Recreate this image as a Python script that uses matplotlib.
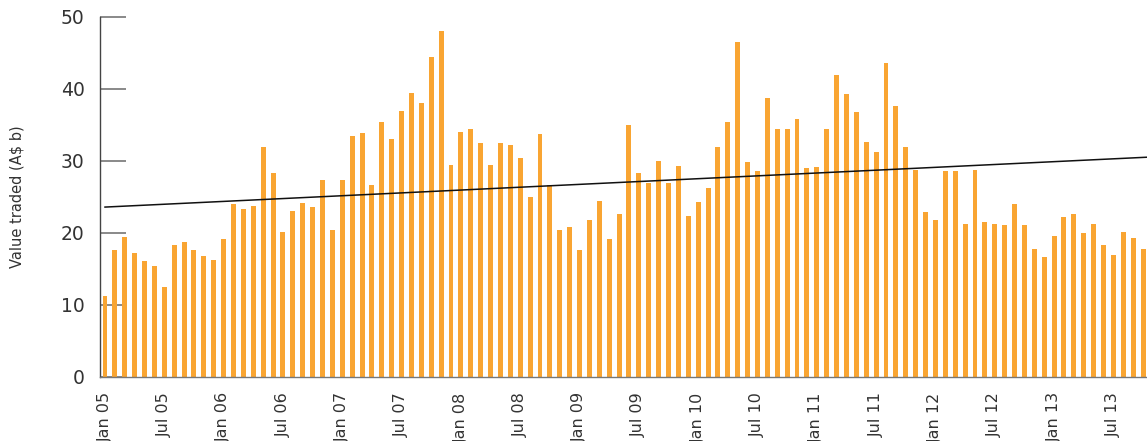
import numpy as np
import matplotlib
matplotlib.use("Agg")
import matplotlib.pyplot as plt

# Monthly value traded, Jan 2005 - Oct 2013 (A$ b)
values = [
    11.3, 17.7, 19.4, 17.2, 16.1, 15.4, 12.5, 18.4, 18.8, 17.6, 16.8, 16.2,   # 2005
    19.1, 24.0, 23.4, 23.7, 32.0, 28.4, 20.1, 23.0, 24.2, 23.6, 27.4, 20.4,   # 2006
    27.4, 33.5, 33.9, 26.7, 35.4, 33.0, 36.9, 39.5, 38.0, 44.4, 48.1, 29.5,   # 2007
    34.0, 34.4, 32.5, 29.4, 32.5, 32.2, 30.4, 25.0, 33.7, 26.6, 20.4, 20.9,   # 2008
    17.7, 21.8, 24.4, 19.1, 22.7, 35.0, 28.4, 27.0, 30.0, 27.0, 29.3, 22.3,   # 2009
    24.3, 26.3, 32.0, 35.4, 46.5, 29.8, 28.6, 38.7, 34.5, 34.5, 35.9, 29.0,   # 2010
    29.1, 34.5, 41.9, 39.3, 36.8, 32.7, 31.3, 43.6, 37.6, 32.0, 28.8, 22.9,   # 2011
    21.8, 28.6, 28.6, 21.2, 28.75, 21.5, 21.25, 21.1, 24.0, 21.1, 17.8, 16.7, # 2012
    19.6, 22.2, 22.6, 20.0, 21.25, 18.3, 16.9, 20.1, 19.3, 17.8,             # 2013
]

# trend line: value at first month and at last month
trend_start = 23.6
trend_end = 30.5

tick_labels = ["Jan 05", "Jul 05", "Jan 06", "Jul 06", "Jan 07", "Jul 07",
               "Jan 08", "Jul 08", "Jan 09", "Jul 09", "Jan 10", "Jul 10",
               "Jan 11", "Jul 11", "Jan 12", "Jul 12", "Jan 13", "Jul 13"]

bar_color = "#F9A532"
text_color = "#333333"

x = np.arange(len(values))

fig = plt.figure(figsize=(11.47, 4.41), dpi=100)
ax = fig.add_axes([100 / 1147, 64 / 441, 1047 / 1147, 360 / 441])

ax.bar(x, values, width=0.5, color=bar_color, zorder=2)

# linear trend, extended to the right edge of the plot
xmax = 105.4
slope = (trend_end - trend_start) / (len(values) - 1)
tx = np.array([0, xmax + 1])
ax.plot(tx, trend_start + slope * tx, color="#111111", linewidth=1.1, zorder=3)

ax.set_xlim(-0.505, xmax)
ax.set_ylim(0, 50)

ax.set_yticks([0, 10, 20, 30, 40, 50])
ax.tick_params(axis="y", direction="in", length=19, width=1.3, color="#808080",
               pad=11, labelsize=13.5, labelcolor=text_color)
ax.yaxis.get_major_ticks()[0].tick1line.set_color("#222222")

ax.set_xticks(x[::6])
ax.set_xticklabels(tick_labels, rotation=90, ha="center", va="top")
ax.tick_params(axis="x", length=0, pad=11, labelsize=11.5, labelcolor=text_color)

ax.set_ylabel("Value traded (A$ b)", fontsize=10.5, color=text_color, labelpad=26)

for side in ["top", "right"]:
    ax.spines[side].set_visible(False)
ax.spines["left"].set_color("#444444")
ax.spines["left"].set_linewidth(1.0)
ax.spines["bottom"].set_color("#777777")
ax.spines["bottom"].set_linewidth(1.0)

fig.savefig("out.png", dpi=100)
